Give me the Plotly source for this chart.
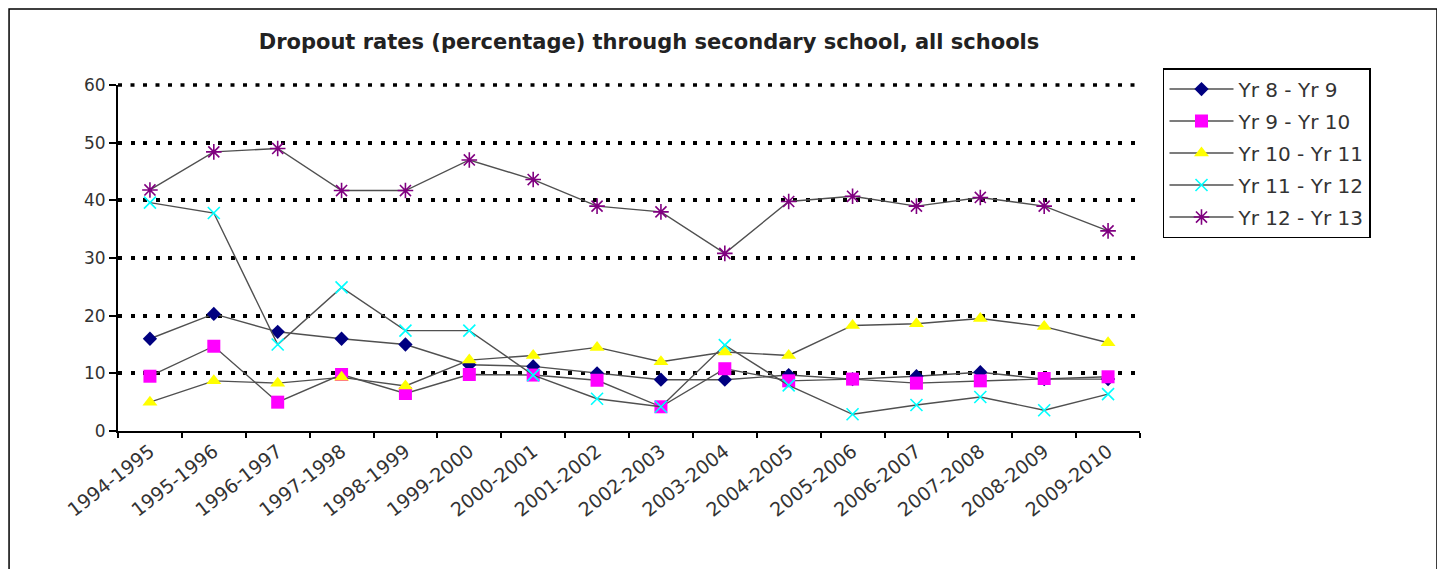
from plotly.graph_objects import Figure
from plotly.graph_objects import Scatter

years = [
    "1994-1995", "1995-1996", "1996-1997", "1997-1998", "1998-1999",
    "1999-2000", "2000-2001", "2001-2002", "2002-2003", "2003-2004",
    "2004-2005", "2005-2006", "2006-2007", "2007-2008", "2008-2009",
    "2009-2010",
]

yr8_9 = [16.0, 20.3, 17.2, 16.0, 15.0, 11.5, 11.2, 10.0, 8.9, 8.9,
         9.7, 9.0, 9.5, 10.2, 9.0, 9.0]
yr9_10 = [9.5, 14.7, 5.0, 9.8, 6.5, 9.8, 9.7, 8.8, 4.2, 10.8,
          8.7, 9.0, 8.3, 8.7, 9.1, 9.4]
yr10_11 = [5.0, 8.7, 8.3, 9.3, 7.8, 12.3, 13.1, 14.5, 12.0, 13.7,
           13.1, 18.3, 18.6, 19.5, 18.1, 15.3]
yr11_12 = [39.6, 37.8, 15.0, 24.9, 17.4, 17.4, 9.7, 5.6, 4.2, 14.9,
           7.9, 2.9, 4.5, 5.9, 3.6, 6.4]
yr12_13 = [41.8, 48.4, 49.0, 41.7, 41.7, 47.0, 43.6, 39.0, 38.0, 30.8,
           39.8, 40.7, 39.0, 40.5, 39.0, 34.7]

y_max = 60

series = [
    ("Yr 8 - Yr 9", yr8_9, dict(symbol="diamond", size=11, color="#000080")),
    ("Yr 9 - Yr 10", yr9_10, dict(symbol="square", size=13, color="#ff00ff")),
    ("Yr 10 - Yr 11", yr10_11, dict(symbol="triangle-up", size=13, color="#ffff00")),
    ("Yr 11 - Yr 12", yr11_12, dict(symbol="x-thin", size=12, color="#00ffff",
                                     line=dict(color="#00ffff", width=1.6))),
    ("Yr 12 - Yr 13", yr12_13, dict(symbol="asterisk", size=13, color="#800080",
                                     line=dict(color="#800080", width=1.6))),
]

grid_dash = "4px,8.5px"

fig = Figure()
for name, values, marker in series:
    fig.add_trace(
        Scatter(
            x=years,
            y=values,
            name=name,
            legendgroup=name,
            mode="lines+markers",
            line=dict(color="#505050", width=1.4),
            marker=marker,
        )
    )

fig.update_layout(
    width=1445,
    height=569,
    # page body adds 8px, so margins are shifted by that
    margin=dict(l=110, r=313, t=77, b=146),
    paper_bgcolor="white",
    plot_bgcolor="white",
    font=dict(family="DejaVu Sans, Arial, sans-serif", size=16, color="#2a2a2a"),
    title=dict(
        text="<b>Dropout rates (percentage) through secondary school, all schools</b>",
        x=0.4436,
        xanchor="center",
        y=0.94,
        yanchor="middle",
        font=dict(size=21, color="#222"),
    ),
    legend=dict(
        x=1.0225,
        y=1.049,
        xanchor="left",
        yanchor="top",
        bordercolor="black",
        borderwidth=1.5,
        font=dict(size=20, color="#333"),
        tracegroupgap=3,
        itemwidth=64,
    ),
    showlegend=True,
)

fig.update_xaxes(
    type="category",
    range=[-0.5, 15.5],
    showline=True,
    linecolor="black",
    linewidth=2,
    ticks="outside",
    tickson="boundaries",
    ticklen=5,
    tickwidth=2,
    tickcolor="black",
    tickangle=-38,
    showgrid=False,
    tickfont=dict(size=19, color="#333"),
)
fig.update_yaxes(
    range=[0, y_max],
    dtick=10,
    showline=True,
    linecolor="black",
    linewidth=2,
    ticks="outside",
    ticklen=7,
    tickwidth=2,
    tickcolor="black",
    showgrid=True,
    gridcolor="black",
    gridwidth=3.5,
    griddash=grid_dash,
    zeroline=False,
    tickfont=dict(size=17, color="#333"),
)

# top gridline sits on the range edge, plotly skips it (paper ref so it isn't clipped)
fig.add_shape(
    type="line",
    xref="paper",
    yref="paper",
    x0=0,
    x1=1,
    y0=1,
    y1=1,
    line=dict(color="black", width=3.5, dash=grid_dash),
)

# outer chart frame
fig.add_shape(
    type="rect",
    xref="paper",
    yref="paper",
    x0=-0.1066,
    x1=1.2906,
    y0=-0.45,
    y1=1.2197,
    line=dict(color="black", width=1.5),
    layer="below",
)

fig.write_html("out.html")
